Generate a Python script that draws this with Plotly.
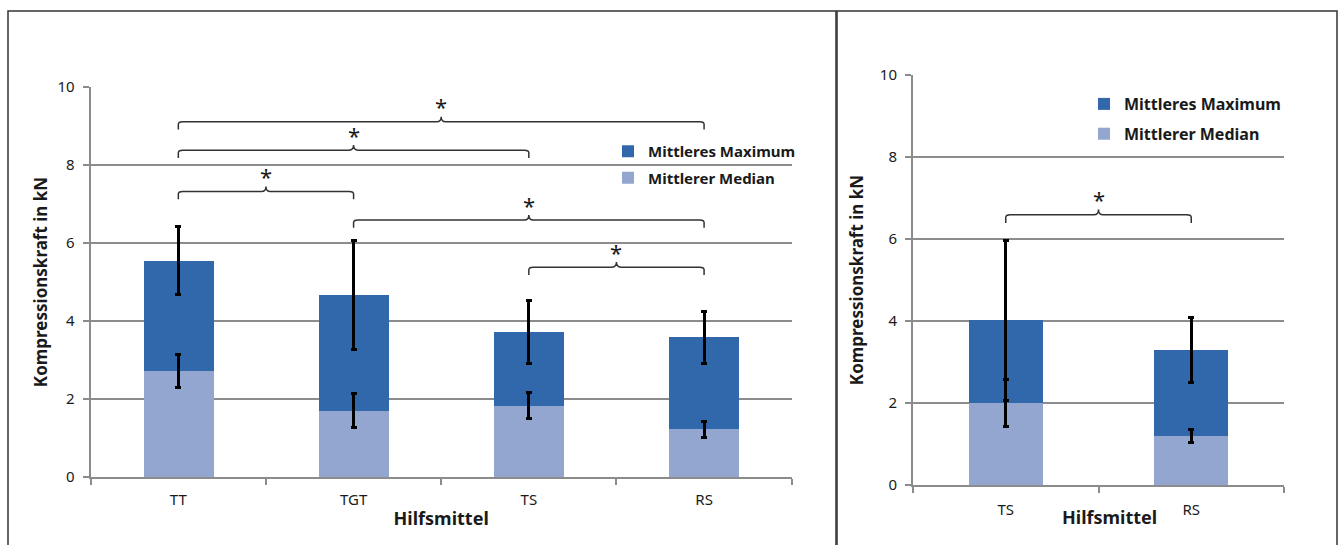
import plotly.graph_objects as go

# ---------------- data ----------------
left_categories = ["TT", "TGT", "TS", "RS"]
left_max = [5.55, 4.66, 3.72, 3.58]
left_max_err = [0.88, 1.40, 0.81, 0.67]
left_median = [2.72, 1.70, 1.83, 1.22]
left_median_err = [0.43, 0.44, 0.33, 0.20]

right_categories = ["TS", "RS"]
right_max = [4.02, 3.30]
right_max_err = [1.95, 0.79]
right_median = [2.00, 1.19]
right_median_err = [0.58, 0.16]

# significance brackets: (from category index, to category index, level in kN)
left_brackets = [(0, 3, 9.11), (0, 2, 8.38), (0, 1, 7.32), (1, 3, 6.59), (2, 3, 5.38)]
right_brackets = [(0, 1, 6.59)]

y_ticks = [0, 2, 4, 6, 8, 10]

# ---------------- style ----------------
DARK = "#3167ab"
LIGHT = "#92a6cf"
GRID = "#8c8c8c"
TEXT = "#1a1a1a"
FONT = "Noto Sans"
W, H = 1341, 545

fig = go.Figure()

fig.add_trace(go.Bar(x=list(range(len(left_categories))), y=left_max, name="Mittleres Maximum",
                     marker=dict(color=DARK, line=dict(width=0)), width=0.4,
                     error_y=dict(type="data", array=left_max_err, color="black", thickness=3, width=3),
                     xaxis="x", yaxis="y", legend="legend", legendgroup="a"))
fig.add_trace(go.Bar(x=list(range(len(left_categories))), y=left_median, name="Mittlerer Median",
                     marker=dict(color=LIGHT, line=dict(width=0)), width=0.4,
                     error_y=dict(type="data", array=left_median_err, color="black", thickness=3, width=3),
                     xaxis="x", yaxis="y", legend="legend", legendgroup="b"))
fig.add_trace(go.Bar(x=list(range(len(right_categories))), y=right_max, name="Mittleres Maximum",
                     marker=dict(color=DARK, line=dict(width=0)), width=0.4,
                     error_y=dict(type="data", array=right_max_err, color="black", thickness=3, width=3),
                     xaxis="x2", yaxis="y2", legend="legend2", legendgroup="c"))
fig.add_trace(go.Bar(x=list(range(len(right_categories))), y=right_median, name="Mittlerer Median",
                     marker=dict(color=LIGHT, line=dict(width=0)), width=0.4,
                     error_y=dict(type="data", array=right_median_err, color="black", thickness=3, width=3),
                     xaxis="x2", yaxis="y2", legend="legend2", legendgroup="d"))


def xaxis_cfg(cats, domain, title, label_gap):
    n = len(cats)
    return dict(domain=domain, range=[-0.5, n - 0.5], tickvals=list(range(n)), ticktext=cats,
                ticks="", showline=True, linecolor=GRID, linewidth=2, showgrid=False, zeroline=False,
                tickfont=dict(family=FONT, size=15, color=TEXT), ticklabelstandoff=label_gap,
                minor=dict(tickvals=[i - 0.5 for i in range(n + 1)], ticks="outside", ticklen=6,
                           tickcolor=GRID, tickwidth=2, showgrid=False),
                title=dict(text=title, font=dict(family=FONT, size=18, weight="bold", color=TEXT),
                           standoff=4),
                automargin=False, fixedrange=True)


def yaxis_cfg(domain, anchor, standoff):
    return dict(domain=domain, anchor=anchor, range=[0, 10], tickvals=y_ticks,
                showgrid=True, gridcolor=GRID, gridwidth=2, showline=True, linecolor=GRID, linewidth=2,
                ticks="outside", ticklen=6, tickcolor=GRID, tickwidth=2, zeroline=False,
                tickfont=dict(family=FONT, size=15, color=TEXT), ticklabelstandoff=5,
                title=dict(text="Kompressionskraft in kN",
                           font=dict(family=FONT, size=17, weight="bold", color=TEXT), standoff=standoff),
                automargin=False, fixedrange=True)


fig.update_layout(
    width=W, height=H, margin=dict(l=0, r=0, t=0, b=0, pad=0), autosize=False,
    paper_bgcolor="white", plot_bgcolor="white",
    barmode="overlay", bargap=0,
    font=dict(family=FONT, color=TEXT),
    xaxis=dict(**xaxis_cfg(left_categories, [90.7 / W, 791.7 / W], "Hilfsmittel", 8), anchor="y"),
    yaxis=yaxis_cfg([1 - 477 / H, 1 - 87 / H], "x", 6),
    xaxis2=dict(**xaxis_cfg(right_categories, [913 / W, 1284 / W], "", 10), anchor="y2"),
    yaxis2=yaxis_cfg([1 - 485 / H, 1 - 75 / H], "x2", 12),
    legend=dict(x=608 / W, y=1 - 135 / H, xanchor="left", yanchor="top", bgcolor="rgba(0,0,0,0)",
                font=dict(family=FONT, size=15, weight="bold", color=TEXT), tracegroupgap=4,
                traceorder="grouped"),
    legend2=dict(x=1084 / W, y=1 - 87 / H, xanchor="left", yanchor="top", bgcolor="rgba(0,0,0,0)",
                 font=dict(family=FONT, size=16, weight="bold", color=TEXT), tracegroupgap=6,
                 traceorder="grouped"),
    showlegend=True,
)


def bracket_path(x0, x1, y, hook=0.2, notch=0.13, dx=0.025):
    xm = (x0 + x1) / 2
    return (f"M{x0},{y - hook} L{x0},{y - hook / 3} Q{x0},{y} {x0 + dx},{y} "
            f"L{xm - dx},{y} Q{xm},{y} {xm},{y + notch} Q{xm},{y} {xm + dx},{y} "
            f"L{x1 - dx},{y} Q{x1},{y} {x1},{y - hook / 3} L{x1},{y - hook}")


shapes = []
annotations = []
for (a, b, lvl), (xr, yr) in [(br, ("x", "y")) for br in left_brackets] + \
                              [(br, ("x2", "y2")) for br in right_brackets]:
    shapes.append(dict(type="path", path=bracket_path(a, b, lvl), xref=xr, yref=yr,
                       line=dict(color="#333333", width=1.5)))
    annotations.append(dict(x=(a + b) / 2, y=lvl - 0.04, xref=xr, yref=yr, text="*", showarrow=False,
                            yanchor="bottom", font=dict(family=FONT, size=22, color=TEXT)))

# x-axis title of the right panel (placed slightly right of centre as in the source)
annotations.append(dict(x=1109 / W, y=1 - 517 / H, xref="paper", yref="paper", text="Hilfsmittel",
                        showarrow=False, xanchor="center", yanchor="middle",
                        font=dict(family=FONT, size=18, weight="bold", color=TEXT)))

# panel frames
shapes.append(dict(type="rect", xref="paper", yref="paper", x0=8 / W, x1=836 / W, y0=-0.2, y1=1 - 11 / H,
                   line=dict(color="#333333", width=1.5), fillcolor="rgba(0,0,0,0)", layer="below"))
shapes.append(dict(type="rect", xref="paper", yref="paper", x0=837 / W, x1=1337 / W, y0=-0.2, y1=1 - 11 / H,
                   line=dict(color="#333333", width=1.5), fillcolor="rgba(0,0,0,0)", layer="below"))

fig.update_layout(shapes=shapes, annotations=annotations)

fig.write_html("out.html", config={"displayModeBar": False, "staticPlot": False},
               post_script="document.body.style.margin='0';document.body.style.padding='0';"
                           "document.body.style.overflow='hidden';"
                           "document.documentElement.style.overflow='hidden';")
